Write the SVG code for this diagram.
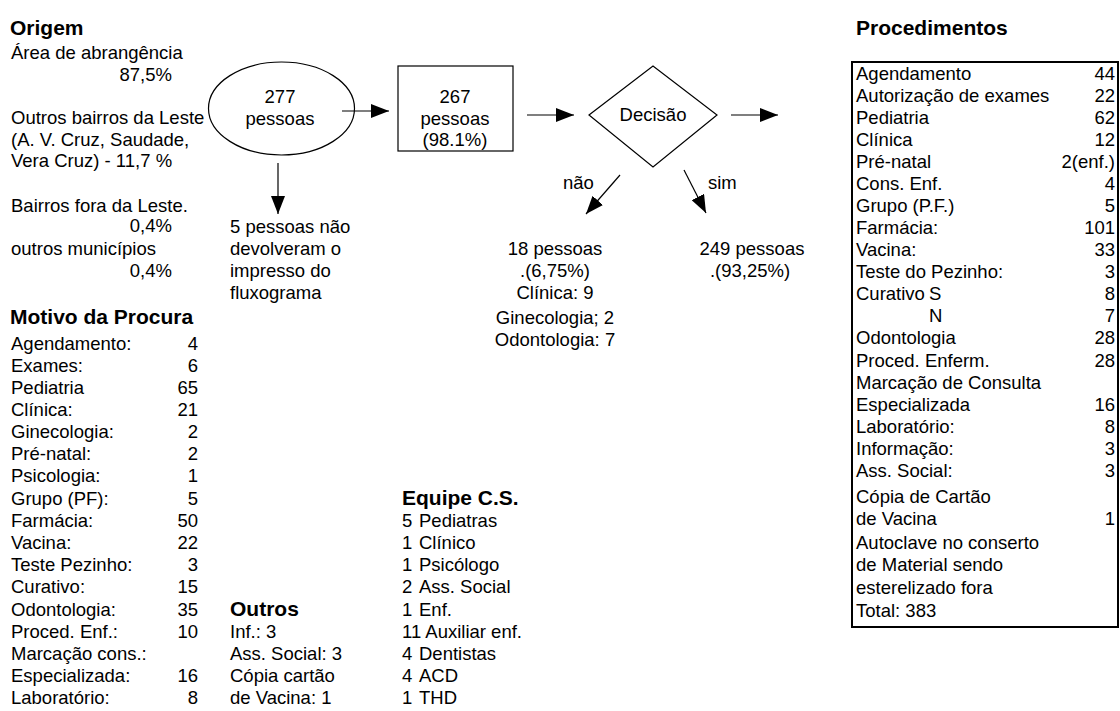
<svg xmlns="http://www.w3.org/2000/svg" width="1120" height="711" viewBox="0 0 1120 711">
<defs>
<style>
text{font-family:"Liberation Sans",Arial,sans-serif;font-size:18.5px;fill:#000}
.h{font-weight:bold;font-size:21px}
.r{text-anchor:end}
.c{text-anchor:middle}
.shape{fill:#fff;stroke:#000;stroke-width:1.2}
.conn line{stroke:#000;stroke-width:1.2}
</style>
<marker id="ah" markerUnits="userSpaceOnUse" markerWidth="18" markerHeight="14" viewBox="0 0 18 14" refX="18" refY="7" orient="auto">
<path d="M0,0 L18,7 L0,14 z" fill="#000"/>
</marker>
</defs>
<rect width="1120" height="711" fill="#fff"/>

<g id="origem">
<text class="h" x="10" y="35">Origem</text>
<text x="11" y="59">Área de abrangência</text>
<text class="r" x="172" y="81">87,5%</text>
<text x="11" y="124">Outros bairros da Leste</text>
<text x="11" y="146">(A. V. Cruz, Saudade,</text>
<text x="11" y="167">Vera Cruz) - 11,7 %</text>
<text x="11" y="212">Bairros fora da Leste.</text>
<text class="r" x="172" y="232">0,4%</text>
<text x="11" y="255">outros municípios</text>
<text class="r" x="172" y="277">0,4%</text>
</g>

<g id="motivo">
<text class="h" x="10" y="324">Motivo da Procura</text>
<text x="11" y="350">Agendamento:</text><text class="r" x="198" y="350">4</text>
<text x="11" y="372">Exames:</text><text class="r" x="198" y="372">6</text>
<text x="11" y="394">Pediatria</text><text class="r" x="198" y="394">65</text>
<text x="11" y="416">Clínica:</text><text class="r" x="198" y="416">21</text>
<text x="11" y="438">Ginecologia:</text><text class="r" x="198" y="438">2</text>
<text x="11" y="460">Pré-natal:</text><text class="r" x="198" y="460">2</text>
<text x="11" y="482">Psicologia:</text><text class="r" x="198" y="482">1</text>
<text x="11" y="505">Grupo (PF):</text><text class="r" x="198" y="505">5</text>
<text x="11" y="527">Farmácia:</text><text class="r" x="198" y="527">50</text>
<text x="11" y="549">Vacina:</text><text class="r" x="198" y="549">22</text>
<text x="11" y="571">Teste Pezinho:</text><text class="r" x="198" y="571">3</text>
<text x="11" y="593">Curativo:</text><text class="r" x="198" y="593">15</text>
<text x="11" y="616">Odontologia:</text><text class="r" x="198" y="616">35</text>
<text x="11" y="638">Proced. Enf.:</text><text class="r" x="198" y="638">10</text>
<text x="11" y="660">Marcação cons.:</text>
<text x="11" y="682">Especializada:</text><text class="r" x="198" y="682">16</text>
<text x="11" y="704">Laboratório:</text><text class="r" x="198" y="704">8</text>
</g>

<g id="outros">
<text class="h" x="230" y="616">Outros</text>
<text x="230" y="638">Inf.: 3</text>
<text x="230" y="660">Ass. Social: 3</text>
<text x="230" y="682">Cópia cartão</text>
<text x="230" y="704">de Vacina: 1</text>
</g>

<g id="equipe">
<text class="h" x="402" y="505">Equipe C.S.</text>
<text x="402" y="527">5</text><text x="419" y="527">Pediatras</text>
<text x="402" y="549">1</text><text x="419" y="549">Clínico</text>
<text x="402" y="571">1</text><text x="419" y="571">Psicólogo</text>
<text x="402" y="593">2</text><text x="419" y="593">Ass. Social</text>
<text x="402" y="616">1</text><text x="419" y="616">Enf.</text>
<text x="402" y="638">11 Auxiliar enf.</text>
<text x="402" y="660">4</text><text x="419" y="660">Dentistas</text>
<text x="402" y="682">4</text><text x="419" y="682">ACD</text>
<text x="402" y="704">1</text><text x="419" y="704">THD</text>
</g>

<g id="n277">
<ellipse class="shape" cx="281.5" cy="108.5" rx="73" ry="46.5"/>
<text class="c" x="280" y="103">277</text>
<text class="c" x="280" y="125">pessoas</text>
</g>

<g id="n267">
<rect class="shape" x="398" y="66" width="115" height="85"/>
<text class="c" x="455" y="103">267</text>
<text class="c" x="455" y="125">pessoas</text>
<text class="c" x="455" y="146">(98.1%)</text>
</g>

<g id="decisao">
<polygon class="shape" points="589,115 653,66 717,115 653,167"/>
<text class="c" x="653" y="121">Decisão</text>
</g>

<g id="nao5">
<text x="230" y="233">5 pessoas não</text>
<text x="230" y="255">devolveram o</text>
<text x="230" y="277">impresso do</text>
<text x="230" y="299">fluxograma</text>
</g>

<g id="n18">
<text class="c" x="555" y="255">18 pessoas</text>
<text class="c" x="555" y="277">.(6,75%)</text>
<text class="c" x="555" y="299">Clínica: 9</text>
<text class="c" x="555" y="324">Ginecologia; 2</text>
<text class="c" x="555" y="346">Odontologia: 7</text>
</g>

<g id="n249">
<text class="c" x="752" y="255">249 pessoas</text>
<text class="c" x="750" y="277">.(93,25%)</text>
</g>

<g id="labels">
<text x="563" y="189">não</text>
<text x="708" y="189">sim</text>
</g>

<g id="procedimentos">
<text class="h" x="856" y="35">Procedimentos</text>
<rect x="852" y="62" width="266" height="565" fill="#fff" stroke="#000" stroke-width="2"/>
<text x="856" y="80">Agendamento</text><text class="r" x="1115" y="80">44</text>
<text x="856" y="102">Autorização de exames</text><text class="r" x="1115" y="102">22</text>
<text x="856" y="124">Pediatria</text><text class="r" x="1115" y="124">62</text>
<text x="856" y="146">Clínica</text><text class="r" x="1115" y="146">12</text>
<text x="856" y="168">Pré-natal</text><text class="r" x="1115" y="168">2(enf.)</text>
<text x="856" y="190">Cons. Enf.</text><text class="r" x="1115" y="190">4</text>
<text x="856" y="212">Grupo (P.F.)</text><text class="r" x="1115" y="212">5</text>
<text x="856" y="234">Farmácia:</text><text class="r" x="1115" y="234">101</text>
<text x="856" y="256">Vacina:</text><text class="r" x="1115" y="256">33</text>
<text x="856" y="278">Teste do Pezinho:</text><text class="r" x="1115" y="278">3</text>
<text x="856" y="300">Curativo<tspan x="929">S</tspan></text><text class="r" x="1115" y="300">8</text>
<text x="929" y="322">N</text><text class="r" x="1115" y="322">7</text>
<text x="856" y="344">Odontologia</text><text class="r" x="1115" y="344">28</text>
<text x="856" y="367">Proced. Enferm.</text><text class="r" x="1115" y="367">28</text>
<text x="856" y="389">Marcação de Consulta</text>
<text x="856" y="411">Especializada</text><text class="r" x="1115" y="411">16</text>
<text x="856" y="433">Laboratório:</text><text class="r" x="1115" y="433">8</text>
<text x="856" y="455">Informação:</text><text class="r" x="1115" y="455">3</text>
<text x="856" y="477">Ass. Social:</text><text class="r" x="1115" y="477">3</text>
<text x="856" y="503">Cópia de Cartão</text>
<text x="856" y="525">de Vacina</text><text class="r" x="1115" y="525">1</text>
<text x="856" y="549">Autoclave no conserto</text>
<text x="856" y="571">de Material sendo</text>
<text x="856" y="594">esterelizado fora</text>
<text x="856" y="617">Total: 383</text>
</g>

<g id="connectors" class="conn">
<line x1="342" y1="111" x2="389" y2="111" marker-end="url(#ah)"/>
<line x1="527" y1="115" x2="574" y2="115" marker-end="url(#ah)"/>
<line x1="731" y1="115" x2="778" y2="115" marker-end="url(#ah)"/>
<line x1="278" y1="163" x2="278" y2="214" marker-end="url(#ah)"/>
<line x1="620" y1="175" x2="586" y2="214" marker-end="url(#ah)"/>
<line x1="684" y1="170" x2="706" y2="213" marker-end="url(#ah)"/>
</g>
</svg>
